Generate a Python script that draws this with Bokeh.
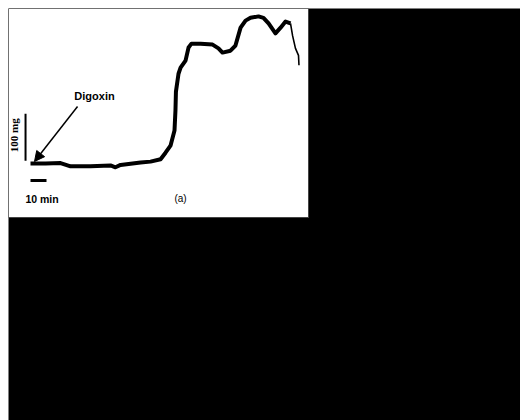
from bokeh.plotting import figure
from bokeh.models import Range1d, Arrow, NormalHead
from bokeh.core.properties import value
from bokeh.embed import file_html
from bokeh.resources import INLINE

# Tension trace (time in min, tension change in mg)
time_min = [0, 9.4, 18.8, 25, 37.5, 50, 53.1, 56.3, 68.8, 75, 81.3, 84.4, 87.5, 90,
            90.6, 90.9, 92.5, 93.8, 96.9, 98.8, 100.6, 106.3, 113.8, 117.5, 120, 125,
            128.1, 131.3, 134.4, 137.5, 142.5, 145.6, 148.8, 153.1, 156.3, 159.4, 162.5]
tension_mg = [0, 0, 1, -6, -6, -4, -8, -3, 2, 4, 9, 23, 38, 70,
              113, 153, 191, 204, 219, 247, 255, 255, 253, 245, 236, 240,
              251, 289, 304, 310, 313, 310, 298, 277, 289, 302, 298]
tail_min = [162.5, 163.8, 165.6, 167.5, 167.8]
tail_mg = [298, 272, 245, 230, 209]

# Scale bars
scale_bar_mg = [6, 106]
scale_bar_x = [-3.1, -3.1]
scale_time = [0, 10]
scale_time_y = [-36, -36]

# Panel (a) extent and labels
panel_x = [-13.75, 173.75]
panel_y = [-114.9, 329.8]
arrow_from = (29.4, 121.3)
arrow_to = (2.5, 4.3)

p = figure(width=520, height=420, output_backend="svg", toolbar_location=None,
           x_range=Range1d(-13.75, 306.25), y_range=Range1d(-546.8, 329.8),
           min_border=0, min_border_left=8, min_border_right=0,
           min_border_top=8, min_border_bottom=0)
p.background_fill_color = "black"
p.border_fill_color = "white"
p.outline_line_color = None
p.axis.visible = False
p.grid.visible = False

p.quad(left=[panel_x[0]], right=[panel_x[1]], bottom=[panel_y[0]], top=[panel_y[1]],
       fill_color="white", line_color="#444444", line_width=1)

p.line(time_min, tension_mg, line_color="black", line_width=4, line_join="round")
p.line(tail_min, tail_mg, line_color="black", line_width=1.6, line_join="round")

p.line(scale_bar_x, scale_bar_mg, line_color="black", line_width=2)
p.line(scale_time, scale_time_y, line_color="black", line_width=3)

p.add_layout(Arrow(end=NormalHead(size=10, fill_color="black", line_color="black"),
                   x_start=arrow_from[0], y_start=arrow_from[1],
                   x_end=arrow_to[0], y_end=arrow_to[1],
                   line_color="black", line_width=1.5))

p.text(x=[40.0], y=[143.0], text=["Digoxin"], text_font=value("Liberation Sans"),
       text_font_style="bold", text_font_size="11px", text_align="center",
       text_baseline="alphabetic", text_color="black")
p.text(x=[-10.4], y=[60.0], text=["100 mg"], text_font=value("Liberation Serif"),
       text_font_style="bold", text_font_size="11px", text_align="center",
       text_baseline="middle", angle=1.5708, text_color="black")
p.text(x=[7.2], y=[-74.5], text=["10 min"], text_font=value("Liberation Sans"),
       text_font_style="bold", text_font_size="10.5px", text_align="center",
       text_baseline="alphabetic", text_color="black")
p.text(x=[93.75], y=[-74.5], text=["(a)"], text_font=value("Liberation Sans"),
       text_font_size="10px", text_align="center",
       text_baseline="middle", text_color="black")

open("out.html", "w").write(file_html(p, INLINE))
